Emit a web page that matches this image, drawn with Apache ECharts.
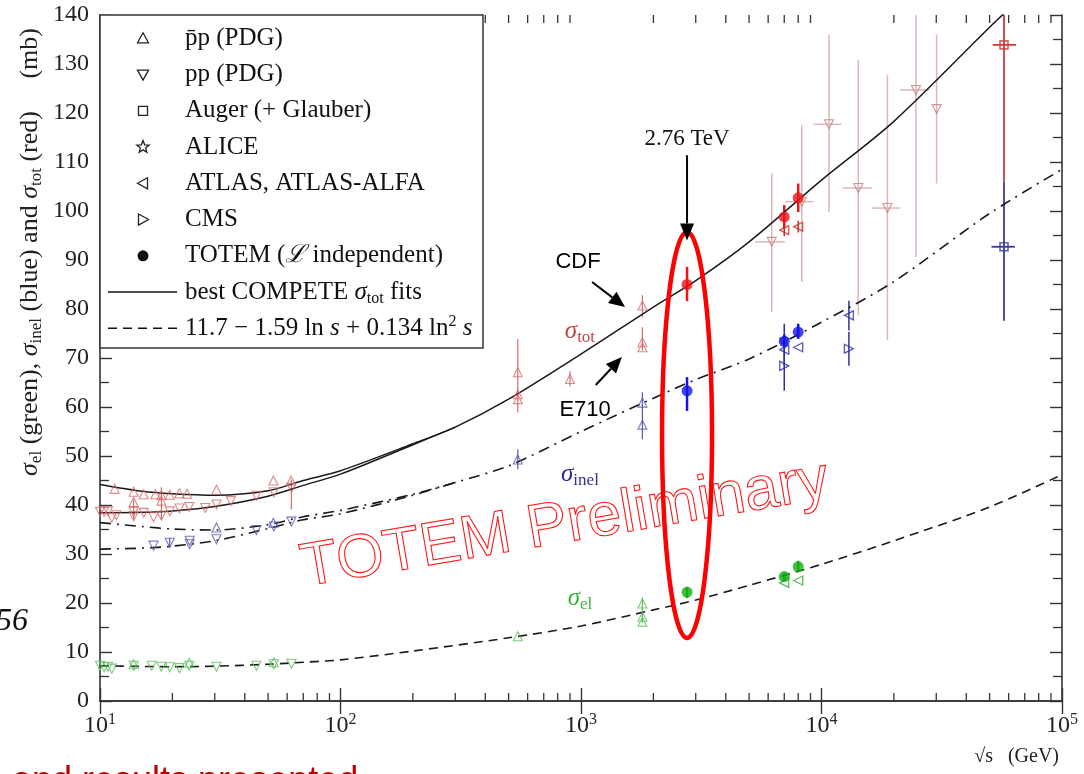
<!DOCTYPE html>
<html>
<head>
<meta charset="utf-8">
<title>pp cross sections vs sqrt(s)</title>
<script src="https://cdn.jsdelivr.net/npm/echarts@6/dist/echarts.min.js"></script>
<style>
  html, body { margin: 0; padding: 0; background: #fff; }
  #chart { width: 1084px; height: 774px; }
</style>
</head>
<body>
<div id="chart"></div>
<script>
// values: sqrt(s) in GeV, sigma in mb

// minor ticks of the log x axis
const xMinorTicks = [20, 30, 40, 50, 60, 70, 80, 90,
  200, 300, 400, 500, 600, 700, 800, 900,
  2000, 3000, 4000, 5000, 6000, 7000, 8000, 9000,
  20000, 30000, 40000, 50000, 60000, 70000, 80000, 90000];

// best COMPETE sigma_tot fits (pbar-p upper branch, pp lower branch)
const totFitPbarP = [[10, 44.2], [15, 42.8], [20, 42.3], [30, 42.0], [50, 42.9], [70, 45.0], [100, 47.0],
  [200, 52.5], [300, 55.9], [500, 61.6], [1000, 70.8], [2000, 80.4], [3000, 85.8], [5000, 93.7],
  [10000, 106.3], [20000, 118.3], [50000, 137.5], [60000, 141.2]];
const totFitPP = [[10, 38.4], [15, 38.5], [20, 38.8], [30, 39.7], [50, 41.8], [70, 44.0], [100, 46.3],
  [200, 52.3], [300, 55.9]];

// sigma_inel fits (dash-dot)
const inelFitPbarP = [[10, 36.4], [15, 35.6], [20, 35.1], [30, 34.9], [50, 36.0], [70, 37.6], [100, 38.9],
  [200, 42.2], [300, 44.6], [500, 48.0], [1000, 55.0], [2000, 61.8], [3000, 65.6], [5000, 69.8],
  [10000, 77.3], [20000, 85.6], [50000, 99.5], [100000, 108.5]];
const inelFitPP = [[10, 31.0], [15, 31.2], [20, 31.6], [30, 32.7], [50, 35.2], [70, 37.0], [100, 38.2],
  [200, 42.0], [300, 44.6]];

// 11.7 - 1.59 ln s + 0.134 ln^2 s (dashed, sigma_el)
const elFit = [[10, 7.2], [20, 7.0], [30, 7.1], [50, 7.5], [70, 7.9], [100, 8.4], [200, 10.2], [500, 12.9],
  [1000, 15.3], [2000, 18.6], [3000, 20.6], [5000, 23.6], [10000, 27.9], [20000, 32.7], [50000, 39.6],
  [100000, 46.2]];

// PDG pbar-p (triangle up)
const pbarpTot = [[11.5, 43.3], [13.8, 42.7], [13.8, 40.6], [15.2, 42.2], [17, 42.2], [18, 42.0], [18, 40.9],
  [19.5, 42.1], [21.4, 42.4], [23, 42.3], [30.5, 43.1], [52.6, 45.0], [62.3, 45.0],
  [546, 67.1], [546, 62.6], [546, 61.6], [900, 65.7], [1800, 80.7], [1800, 73.2], [1800, 72.2]];
const pbarpInel = [[30.5, 35.4], [52.6, 36.4], [546, 49.3], [1800, 60.9], [1800, 56.4]];
const pbarpEl = [[13.8, 7.5], [23.5, 7.8], [52.8, 7.9], [546, 13.2], [1800, 19.9], [1800, 17.2], [1800, 16.2]];

// PDG pp (triangle down), low energy
const ppTot = [[10.0, 38.6], [10.4, 38.6], [10.8, 38.7], [11.2, 37.4], [11.7, 37.9], [13.8, 37.7], [13.8, 38.6],
  [15.2, 38.4], [16.7, 37.5], [18, 37.8], [19.5, 38.7], [21.4, 39.3], [23.5, 39.6], [27.4, 39.4],
  [30.5, 40.1], [35, 40.8], [44.7, 41.9], [52.8, 42.6], [62.5, 43.5]];
const ppInel = [[16.7, 31.7], [19.5, 32.3], [23.6, 32.7], [23.6, 32.0], [30.5, 33.0], [44.7, 34.9],
  [52.8, 35.6], [62.5, 36.6]];
const ppEl = [[10.0, 7.2], [10.4, 6.9], [10.8, 7.0], [11.2, 6.6], [13.8, 7.2], [16.4, 7.2], [18, 7.0],
  [19.5, 6.9], [21.4, 6.7], [23.5, 7.2], [30.5, 7.0], [44.7, 7.2], [52.8, 7.5], [62.5, 7.6]];
// pp from cosmic rays (triangle down)
const cosmicTot = [[6210, 93.7], [8280, 101.9], [10740, 117.7], [14220, 104.7], [18800, 100.6],
  [24700, 124.7], [30100, 120.8]];

// Auger, ALICE, ATLAS, CMS, TOTEM
const augerTot = [[57400, 133.9]];
const augerInel = [[57400, 92.7]];
const aliceInel = [[7000, 73.8]];
const atlasTot = [[7000, 96.1], [8000, 96.8]];
const atlasInel = [[7000, 71.7], [8000, 72.2], [13000, 78.7]];
const atlasEl = [[7000, 24.1], [8000, 24.6]];
const cmsInel = [[7000, 68.4], [13000, 71.9]];
const totemTot = [[2760, 85.0], [7000, 98.8], [8000, 102.7]];
const totemInel = [[2760, 63.3], [7000, 73.4], [8000, 75.3]];
const totemEl = [[2760, 22.2], [7000, 25.4], [8000, 27.4]];

// error bars: [sqrt(s), low, high] and horizontal [low sqrt(s), high sqrt(s), sigma]
const totBarsPdg = [[13.8, 37.1, 41.1], [18, 37.0, 43.6], [62.5, 39.1, 45.2], [546, 58.9, 73.9],
  [900, 64.2, 67.3], [1800, 78.3, 82.8], [1800, 71.5, 76.3]];
const inelBarsPdg = [[19.5, 31.3, 33.3], [546, 47.3, 51.4], [1800, 53.4, 63.0]];
const elBarsPdg = [[1800, 15.9, 21.1]];
const cosmicBars = [[6210, 79.4, 107.7], [8280, 85.5, 117.6], [10740, 99.8, 136.0], [14220, 78.7, 130.9],
  [18800, 73.6, 127.8], [24700, 90.6, 145], [30100, 105.6, 136.0]];
const cosmicHBars = [[5290, 7050, 93.7], [7050, 9230, 101.9], [9260, 12130, 117.7], [12250, 16190, 104.7],
  [16190, 21200, 100.6], [21200, 28050, 124.7]];
const augerTotBars = [[57400, 106, 150]];
const augerTotHBars = [[51500, 64400, 133.9]];
const augerInelBars = [[57400, 77.6, 106]];
const augerInelHBars = [[50900, 63700, 92.7]];
const lhcTotBars = [[7000, 94.9, 97.3], [8000, 95.6, 98.0]];
const lhcInelBars = [[7000, 68.4, 77.0], [7000, 63.3, 74.2], [13000, 75.6, 81.7], [13000, 68.4, 75.3]];
const totemTotBars = [[2760, 81.6, 88.6], [7000, 96.4, 101.2], [8000, 99.8, 105.6]];
const totemInelBars = [[2760, 59.2, 66.1], [7000, 72.0, 74.8], [8000, 73.9, 77.0]];
const totemElBars = [[2760, 21.0, 23.3], [7000, 24.6, 26.2], [8000, 26.4, 28.6]];

const SERIF = '"Liberation Serif", "DejaVu Serif", serif';
const SANS = '"Liberation Sans", Arial, sans-serif';

const C = {
  totPdg: '#d96c6c', inelPdg: '#5959ae', elPdg: '#5cbf5c',
  cosmic: '#c97a7a', cosmicBar: '#e0b6b6',
  augerTot: '#d03c3c', augerInel: '#3a3a9c',
  lhcTot: '#d02828', lhcInel: '#3030aa', lhcEl: '#30ad30',
  totemTot: '#ee1414', totemInel: '#1414e8', totemEl: '#10b010'
};

const STAR = 'path://M0,-10L2.9,-4L9.5,-3.1L4.7,1.5L5.9,8.1L0,5L-5.9,8.1L-4.7,1.5L-9.5,-3.1L-2.9,-4Z';

const myChart = echarts.init(document.getElementById('chart'));

function hollow(arr, color) {
  return arr.map(p => ({ value: p, itemStyle: { color: 'rgba(255,255,255,0)', borderColor: color } }));
}
function filled(arr, color) {
  return arr.map(p => ({ value: p, itemStyle: { color: color, borderColor: color } }));
}

// vertical error bars
function vbars(data, color, width) {
  return {
    type: 'custom', data: data, clip: true, z: 2, silent: true,
    encode: { x: 0, y: [1, 2] },
    renderItem: function (params, api) {
      const a = api.coord([api.value(0), api.value(1)]);
      const b = api.coord([api.value(0), api.value(2)]);
      return { type: 'line', shape: { x1: a[0], y1: a[1], x2: b[0], y2: b[1] },
        style: { stroke: color, lineWidth: width } };
    }
  };
}
// horizontal error bars
function hbars(data, color, width) {
  return {
    type: 'custom', data: data, clip: true, z: 2, silent: true,
    encode: { x: [0, 1], y: 2 },
    renderItem: function (params, api) {
      const a = api.coord([api.value(0), api.value(2)]);
      const b = api.coord([api.value(1), api.value(2)]);
      return { type: 'line', shape: { x1: a[0], y1: a[1], x2: b[0], y2: b[1] },
        style: { stroke: color, lineWidth: width } };
    }
  };
}

const fitLine = { color: '#1a1a1a', width: 1.5 };
const dashDot = { color: '#1a1a1a', width: 1.6, type: [11, 6, 2, 6] };
const hollowStyle = { color: 'rgba(255,255,255,0)', borderColor: '#222', borderWidth: 1.1 };

const series = [
  // fits
  { name: 'COMPETE pbar-p', type: 'line', data: totFitPbarP, smooth: 0.3, symbol: 'none', z: 3, silent: true,
    lineStyle: fitLine },
  { name: 'COMPETE pp', type: 'line', data: totFitPP, smooth: 0.3, symbol: 'none', z: 3, silent: true,
    lineStyle: fitLine },
  { name: 'inel fit pbar-p', type: 'line', data: inelFitPbarP, smooth: 0.3, symbol: 'none', z: 3, silent: true,
    lineStyle: dashDot },
  { name: 'inel fit pp', type: 'line', data: inelFitPP, smooth: 0.3, symbol: 'none', z: 3, silent: true,
    lineStyle: dashDot },
  { name: 'el fit', type: 'line', data: elFit, smooth: 0.3, symbol: 'none', z: 3, silent: true,
    lineStyle: { color: '#1a1a1a', width: 1.6, type: [9, 6] } },

  // error bars
  vbars(totBarsPdg, C.totPdg, 1.2),
  vbars(inelBarsPdg, C.inelPdg, 1.2),
  vbars(elBarsPdg, C.elPdg, 1.2),
  vbars(cosmicBars, C.cosmicBar, 1.5),
  hbars(cosmicHBars, C.cosmicBar, 1.5),
  vbars(augerTotBars, C.augerTot, 1.8),
  hbars(augerTotHBars, C.augerTot, 1.8),
  vbars(augerInelBars, C.augerInel, 1.8),
  hbars(augerInelHBars, C.augerInel, 1.8),
  vbars(lhcTotBars, C.lhcTot, 1.5),
  vbars(lhcInelBars, C.lhcInel, 1.5),
  vbars(totemTotBars, C.totemTot, 2.5),
  vbars(totemInelBars, C.totemInel, 2.5),
  vbars(totemElBars, C.totemEl, 2.5),

  // points
  { name: 'p̄p (PDG)', type: 'scatter', symbol: 'triangle', symbolSize: 9, z: 5, itemStyle: hollowStyle,
    data: [].concat(hollow(pbarpTot, C.totPdg), hollow(pbarpInel, C.inelPdg), hollow(pbarpEl, C.elPdg)) },
  { name: 'pp (PDG)', type: 'scatter', symbol: 'triangle', symbolRotate: 180, symbolSize: 9, z: 5,
    itemStyle: hollowStyle,
    data: [].concat(hollow(ppTot, C.totPdg), hollow(ppInel, C.inelPdg), hollow(ppEl, C.elPdg),
      hollow(cosmicTot, C.cosmic)) },
  { name: 'Auger (+ Glauber)', type: 'scatter', symbol: 'rect', symbolSize: 8, z: 5,
    itemStyle: { color: 'rgba(255,255,255,0)', borderColor: '#222', borderWidth: 1.6 },
    data: [].concat(hollow(augerTot, C.augerTot), hollow(augerInel, C.augerInel)) },
  { name: 'ALICE', type: 'scatter', symbol: STAR, symbolSize: 9, z: 5, itemStyle: hollowStyle,
    data: hollow(aliceInel, C.lhcInel) },
  { name: 'ATLAS, ATLAS-ALFA', type: 'scatter', symbol: 'triangle', symbolRotate: 90, symbolSize: 9, z: 5,
    itemStyle: { color: 'rgba(255,255,255,0)', borderColor: '#222', borderWidth: 1.3 },
    data: [].concat(hollow(atlasTot, C.lhcTot), hollow(atlasInel, C.lhcInel), hollow(atlasEl, C.lhcEl)) },
  { name: 'CMS', type: 'scatter', symbol: 'triangle', symbolRotate: -90, symbolSize: 9, z: 5,
    itemStyle: { color: 'rgba(255,255,255,0)', borderColor: '#222', borderWidth: 1.3 },
    data: hollow(cmsInel, C.lhcInel) },
  { name: 'TOTEM (ℒ independent)', type: 'scatter', symbol: 'circle', symbolSize: 11, z: 6,
    itemStyle: { color: '#111', borderColor: '#111', borderWidth: 0 },
    data: [].concat(filled(totemTot, C.totemTot), filled(totemInel, C.totemInel), filled(totemEl, C.totemEl)) },

  // minor ticks of the log axis, bottom and top
  { type: 'custom', silent: true, z: 1, data: xMinorTicks.map(v => [v, 0]), encode: { x: 0, y: 1 },
    renderItem: function (params, api) {
      const b = api.coord([api.value(0), 0]);
      const t = api.coord([api.value(0), 140]);
      const st = { stroke: '#333', lineWidth: 1.3 };
      return { type: 'group', children: [
        { type: 'line', shape: { x1: b[0], y1: b[1], x2: b[0], y2: b[1] - 8 }, style: st },
        { type: 'line', shape: { x1: t[0], y1: t[1], x2: t[0], y2: t[1] + 8 }, style: st }
      ] };
    } }
];

const option = {
  animation: false,
  backgroundColor: '#fff',
  grid: { left: 100, right: 22, top: 15, bottom: 73, containLabel: false },
  xAxis: [
    { type: 'log', logBase: 10, min: 10, max: 100000, position: 'bottom',
      axisLine: { lineStyle: { color: '#333', width: 1.6 } },
      axisTick: { inside: true, length: 13, lineStyle: { color: '#333', width: 1.4 } },
      splitLine: { show: false },
      axisLabel: {
        margin: 11, color: '#222',
        formatter: v => '{b|10}{e|' + Math.round(Math.log10(v)) + '}',
        rich: {
          b: { fontFamily: SERIF, fontSize: 24, lineHeight: 28, color: '#222' },
          e: { fontFamily: SERIF, fontSize: 16, lineHeight: 16, color: '#222', verticalAlign: 'top' }
        }
      } },
    { type: 'log', logBase: 10, min: 10, max: 100000, position: 'top',
      axisLine: { lineStyle: { color: '#333', width: 1.6 } },
      axisTick: { inside: true, length: 13, lineStyle: { color: '#333', width: 1.4 } },
      splitLine: { show: false }, axisLabel: { show: false } }
  ],
  yAxis: [
    { type: 'value', min: 0, max: 140, interval: 10, position: 'left',
      axisLine: { show: true, lineStyle: { color: '#333', width: 1.6 } },
      axisTick: { show: true, inside: true, length: 12, lineStyle: { color: '#333', width: 1.4 } },
      minorTick: { show: true, splitNumber: 2, length: 9, lineStyle: { color: '#333', width: 1.3 } },
      splitLine: { show: false },
      axisLabel: { margin: 11, fontFamily: SERIF, fontSize: 24, color: '#222' } },
    { type: 'value', min: 0, max: 140, interval: 10, position: 'right',
      axisLine: { show: true, lineStyle: { color: '#333', width: 1.6 } },
      axisTick: { show: true, inside: true, length: 12, lineStyle: { color: '#333', width: 1.4 } },
      minorTick: { show: true, splitNumber: 2, length: 9, lineStyle: { color: '#333', width: 1.3 } },
      splitLine: { show: false }, axisLabel: { show: false } }
  ],
  series: series
};

myChart.setOption(option);

// ---- legend box, drawn as graphic elements ----
const legendRich = {
  t: { fontFamily: SERIF, fontSize: 25, lineHeight: 30, fill: '#111' },
  i: { fontFamily: SERIF, fontSize: 25, lineHeight: 30, fill: '#111', fontStyle: 'italic' },
  sub: { fontFamily: SERIF, fontSize: 16, lineHeight: 15, fill: '#111', verticalAlign: 'bottom' },
  sup: { fontFamily: SERIF, fontSize: 16, lineHeight: 19, fill: '#111', verticalAlign: 'top' }
};
const legendRows = [
  { mark: 'up', text: '{t|p̄p (PDG)}' },
  { mark: 'down', text: '{t|pp (PDG)}' },
  { mark: 'square', text: '{t|Auger (+ Glauber)}' },
  { mark: 'star', text: '{t|ALICE}' },
  { mark: 'left', text: '{t|ATLAS, ATLAS-ALFA}' },
  { mark: 'right', text: '{t|CMS}' },
  { mark: 'dot', text: '{t|TOTEM (}{i|ℒ}{t| independent)}' },
  { mark: 'solid', text: '{t|best COMPETE }{i|σ}{sub|tot}{t| fits}' },
  { mark: 'dashed', text: '{t|11.7 − 1.59 ln }{i|s}{t| + 0.134 ln}{sup|2}{i| s}' }
];

function legendMark(kind, cx, cy) {
  const st = { fill: 'none', stroke: '#222', lineWidth: 1.3 };
  const z = 21;
  if (kind === 'up') return { type: 'polygon', z, shape: { points: [[cx, cy - 5.5], [cx + 5.5, cy + 4.5], [cx - 5.5, cy + 4.5]] }, style: st };
  if (kind === 'down') return { type: 'polygon', z, shape: { points: [[cx - 5.5, cy - 4.5], [cx + 5.5, cy - 4.5], [cx, cy + 5.5]] }, style: st };
  if (kind === 'left') return { type: 'polygon', z, shape: { points: [[cx - 5.5, cy], [cx + 4.5, cy - 5.5], [cx + 4.5, cy + 5.5]] }, style: st };
  if (kind === 'right') return { type: 'polygon', z, shape: { points: [[cx + 5.5, cy], [cx - 4.5, cy - 5.5], [cx - 4.5, cy + 5.5]] }, style: st };
  if (kind === 'square') return { type: 'rect', z, shape: { x: cx - 4.5, y: cy - 4.5, width: 9, height: 9 }, style: st };
  if (kind === 'dot') return { type: 'circle', z, shape: { cx, cy, r: 5.5 }, style: { fill: '#111' } };
  if (kind === 'star') {
    const pts = [];
    for (let k = 0; k < 10; k++) {
      const r = k % 2 === 0 ? 6.5 : 2.8;
      const a = -Math.PI / 2 + k * Math.PI / 5;
      pts.push([cx + r * Math.cos(a), cy + r * Math.sin(a)]);
    }
    return { type: 'polygon', z, shape: { points: pts }, style: st };
  }
  const lst = { stroke: '#111', lineWidth: 1.5 };
  if (kind === 'dashed') lst.lineDash = [9, 6];
  return { type: 'line', z, shape: { x1: 108, y1: cy, x2: 177, y2: cy }, style: lst };
}

const legendEls = [
  { type: 'rect', z: 20, shape: { x: 100, y: 15, width: 383, height: 333 },
    style: { fill: '#fff', stroke: '#333', lineWidth: 1.5 } }
];
legendRows.forEach(function (row, k) {
  const cy = 38.3 + k * 36.25;
  legendEls.push(legendMark(row.mark, 143, cy));
  legendEls.push({ type: 'text', z: 21, x: 185, y: cy,
    style: { text: row.text, rich: legendRich, align: 'left', verticalAlign: 'middle' } });
});

// ---- annotations, anchored in data coordinates ----
const px = p => myChart.convertToPixel({ xAxisIndex: 0, yAxisIndex: 0 }, p);

function arrow(from, to, headLen, headW) {
  const a = px(from), b = px(to);
  const dx = b[0] - a[0], dy = b[1] - a[1];
  const L = Math.sqrt(dx * dx + dy * dy);
  const ux = dx / L, uy = dy / L;
  const bx = b[0] - ux * headLen, by = b[1] - uy * headLen;
  return [
    { type: 'line', z: 50, shape: { x1: a[0], y1: a[1], x2: bx, y2: by }, style: { stroke: '#000', lineWidth: 2 } },
    { type: 'polygon', z: 50, shape: { points: [[b[0], b[1]],
      [bx - uy * headW, by + ux * headW], [bx + uy * headW, by - ux * headW]] }, style: { fill: '#000' } }
  ];
}

const sigmaRich = function (color) {
  return {
    s: { fontFamily: SERIF, fontSize: 25, fontStyle: 'italic', fill: color, lineHeight: 30 },
    b: { fontFamily: SERIF, fontSize: 17, fill: color, lineHeight: 14, verticalAlign: 'bottom' }
  };
};

const pTotem = px([857, 35.9]);
const pEll = px([2760, 54.3]);
const p276 = px([2760, 114.8]);
const pCDF = px([972, 89.6]);
const pE710 = px([1040, 59.4]);
const pTot = px([990, 75.5]);
const pInel = px([990, 46.3]);
const pEl = px([990, 21.0]);

const graphics = [].concat(
  legendEls,
  [
    { type: 'text', z: 40, x: pTotem[0], y: pTotem[1], rotation: 0.168,
      style: { text: 'TOTEM Preliminary', font: '61px ' + SANS, fill: 'rgba(255,255,255,0)',
        stroke: '#ff1a1a', lineWidth: 1.1, align: 'center', verticalAlign: 'middle' } },
    { type: 'ellipse', z: 45, shape: { cx: pEll[0], cy: pEll[1], rx: 25, ry: 203 },
      style: { fill: 'none', stroke: '#ff0000', lineWidth: 4.5 } },
    { type: 'text', z: 50, x: p276[0], y: p276[1],
      style: { text: '2.76 TeV', font: '23px ' + SERIF, fill: '#111', align: 'center', verticalAlign: 'middle' } },
    { type: 'text', z: 50, x: pCDF[0], y: pCDF[1],
      style: { text: 'CDF', font: '22px ' + SANS, fill: '#000', align: 'center', verticalAlign: 'middle' } },
    { type: 'text', z: 50, x: pE710[0], y: pE710[1],
      style: { text: 'E710', font: '22px ' + SANS, fill: '#000', align: 'center', verticalAlign: 'middle' } },
    { type: 'text', z: 30, x: pTot[0], y: pTot[1],
      style: { text: '{s|σ}{b|tot}', rich: sigmaRich('#c24848'), align: 'center', verticalAlign: 'middle' } },
    { type: 'text', z: 30, x: pInel[0], y: pInel[1],
      style: { text: '{s|σ}{b|inel}', rich: sigmaRich('#2e2e8c'), align: 'center', verticalAlign: 'middle' } },
    { type: 'text', z: 30, x: pEl[0], y: pEl[1],
      style: { text: '{s|σ}{b|el}', rich: sigmaRich('#3cb43c'), align: 'center', verticalAlign: 'middle' } },
    // y axis title
    { type: 'text', z: 30, x: 30, y: 252, rotation: Math.PI / 2,
      style: { text: '{i|σ}{s|el}{t| (green), }{i|σ}{s|inel}{t| (blue) and }{i|σ}{s|tot}{t| (red)     (mb)}',
        align: 'center', verticalAlign: 'middle',
        rich: {
          t: { fontFamily: SERIF, fontSize: 26, lineHeight: 30, fill: '#222' },
          i: { fontFamily: SERIF, fontSize: 26, lineHeight: 30, fontStyle: 'italic', fill: '#222' },
          s: { fontFamily: SERIF, fontSize: 17, lineHeight: 15, fill: '#222', verticalAlign: 'bottom' }
        } } },
    // x axis title
    { type: 'text', z: 30, right: 25, top: 747,
      style: { text: '√s   (GeV)', font: '20px ' + SERIF, fill: '#222' } },
    // fragments of the slide around the figure
    { type: 'text', z: 30, left: -4, top: 606,
      style: { text: '56', font: 'italic 32px ' + SERIF, fill: '#111' } },
    { type: 'text', z: 30, left: 12, top: 764,
      style: { text: 'and results presented', font: '36px ' + SANS, fill: '#c00000' } }
  ],
  arrow([2760, 111.4], [2760, 94.0], 17, 7),
  arrow([1112, 85.5], [1524, 80.4], 16, 7),
  arrow([1152, 64.5], [1479, 70.2], 16, 7)
);

myChart.setOption({ graphic: graphics });
</script>
</body>
</html>
